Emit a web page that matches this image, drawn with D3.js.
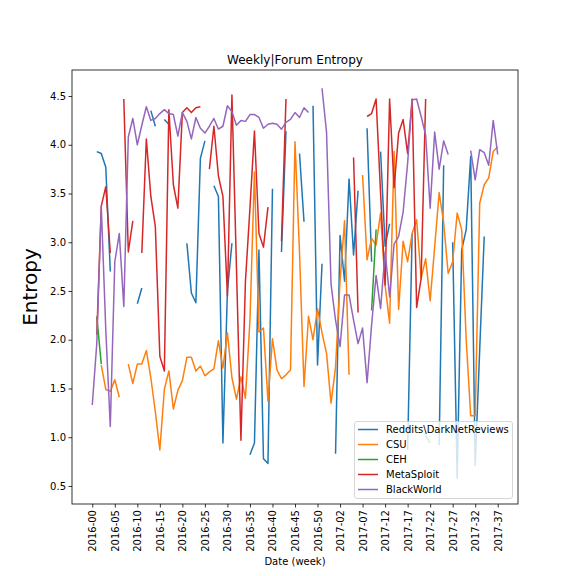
<!DOCTYPE html>
<html><head><meta charset="utf-8">
<script src="https://cdn.jsdelivr.net/npm/d3@7"></script>
<style>body{margin:0;background:#fff}svg{display:block}text{font-family:"DejaVu Sans",sans-serif}</style>
</head><body><svg id="c" width="576" height="576"></svg>
<script>
const years = [2016, 2017];
const weeksPerYear = [53, 38];
const categories = [];
years.forEach((y, k) => { for (let w = 0; w < weeksPerYear[k]; w++) categories.push(y + "-" + String(w).padStart(2, "0")); });
const seriesNames = ["Reddits\\DarkNetReviews", "CSU", "CEH", "MetaSploit", "BlackWorld"];
const colors = ["#1f77b4", "#ff7f0e", "#2ca02c", "#d62728", "#9467bd"];
const yTicks = [0.5, 1.0, 1.5, 2.0, 2.5, 3.0, 3.5, 4.0, 4.5];
const N = null;
const reddit = [N,3.93,3.91,3.77,2.70,N,N,N,N,N, 2.37,2.53,N,4.35,4.19,N,4.26,4.21,N,N,
 N,2.99,2.48,2.38,3.86,4.04,N,3.58,3.47,0.94, 2.5,2.99,N,N,N,0.82,0.94,2.92,0.78,0.73,
 3.55,N,2.90,4.14,N,N,3.91,3.21,N,4.40, 1.74,2.78,N,N,0.83,3.07,2.60,3.65,2.87,3.53,
 N,4.17,2.80,N,3.93,2.96,3.19,N,N,N, 0.87,3.09,N,N,N,N,N,0.92,3.79,N,
 3.0,0.58,2.92,3.13,3.88,0.71,1.9,3.06,N,N,N];
const csu = [N,N,1.74,1.49,1.47,1.59,1.41,N,1.75,1.55, 1.75,1.75,1.89,1.61,1.26,0.87,1.49,1.68,1.29,1.48,
 1.58,1.82,1.82,1.68,1.73,1.63,1.67,1.70,1.99,1.71, 2.07,1.61,1.39,1.62,1.4,2.2,3.72,2.08,2.12,1.37,
 2.01,1.69,1.60,1.64,1.69,4.03,2.9,1.52,2.24,2.00, 2.32,2.07,1.86,1.35,1.72,2.6,3.22,1.64,N,N,
 3.69,2.82,3.04,2.97,3.30,2.56,2.17,3.93,2.31,3.01, 2.80,3.09,3.23,2.63,2.83,2.40,2.95,3.51,3.2,2.68,
 2.80,3.30,3.13,2.0,1.22,1.22,3.40,3.59,3.66,3.93,3.98];
const ceh = [N,2.24,1.75,N,N,N,N,N,N,N, N,N,N,N,N,N,N,N,N,N, N,N,N,N,N,N,N,N,N,N,
 N,N,N,N,N,N,N,N,N,N, N,N,N,N,N,N,N,N,N,N, N,N,N,N,N,N,N,N,N,N,
 N,N,2.3,3.13,N,N,N,N,N,N, N,N,N,N,1.02,0.94,N,N,N,N, N,N,N,N,N,N,N,N,N,N,N];
const metasploit = [N,2.05,3.37,3.57,2.89,N,N,4.47,2.90,3.22, N,2.89,4.06,3.47,3.16,1.83,1.68,4.36,3.59,3.35,
 4.33,4.38,4.33,4.38,4.39,N,3.75,4.19,3.68,3.47, 2.45,4.51,2.75,0.97,2.6,3.35,4.14,3.09,2.95,3.36,
 N,N,3.01,4.47,N,N,N,N,N,N, N,N,N,N,N,N,N,N,3.87,2.28,
 N,4.29,4.32,4.47,3.5,2.56,4.47,3.56,4.12,4.26, 3.91,4.47,2.33,2.63,4.47,N,N,N,N,N,
 N,N,N,N,N,N,N,N,N,N,N];
const blackworld = [1.33,1.96,3.37,2.1,1.11,2.80,3.09,2.34,4.08,4.27, 4.00,4.20,4.39,4.25,4.27,4.32,4.36,4.32,4.31,4.09,
 4.33,4.24,4.06,4.28,4.17,4.12,4.19,4.27,4.16,4.19, 4.40,4.34,4.20,4.25,4.24,4.31,4.31,4.28,4.17,4.21,
 4.22,4.21,4.16,4.23,4.26,4.33,4.28,4.38,4.33,N, N,4.58,4.13,2.57,2.2,1.93,2.46,2.46,2.2,1.96,
 2.12,1.56,2.15,2.66,2.32,2.90,2.44,2.98,3.06,3.31, 3.81,4.46,4.47,4.29,4.10,3.35,4.13,3.75,4.04,3.90,
 N,N,N,N,3.94,3.64,3.95,3.92,3.79,4.25,3.90];
const allSeries = [reddit, csu, ceh, metasploit, blackworld];

const svg = d3.select("#c");
const L = 72, R = 518, T = 70, B = 504;
const n = categories.length - 1;
const x = d3.scaleLinear().domain([-0.05 * n, n * 1.05]).range([L, R]);
const y = d3.scaleLinear().domain([0.315, 4.767]).range([B, T]);

svg.append("defs").append("clipPath").attr("id", "clip").append("rect")
  .attr("x", L).attr("y", T).attr("width", R - L).attr("height", B - T);

const line = d3.line().defined(d => d != null).x((d, i) => x(i)).y(d => y(d));
const g = svg.append("g").attr("clip-path", "url(#clip)");
allSeries.forEach((s, k) => {
  g.append("path").attr("d", line(s)).attr("fill", "none").attr("stroke", colors[k])
    .attr("stroke-width", 1.5).attr("stroke-linejoin", "round").attr("stroke-linecap", "butt");
});

// axes
const xTickIdx = d3.range(0, categories.length, 5);
const xAxis = svg.append("g").attr("transform", `translate(0,${B})`)
  .call(d3.axisBottom(x).tickValues(xTickIdx).tickFormat(i => categories[i]).tickSizeOuter(0).tickSize(3.5));
xAxis.select(".domain").remove();
xAxis.selectAll("text").attr("transform", "rotate(-90)").attr("text-anchor", "end")
  .attr("x", -6).attr("y", 0).attr("dy", "0.35em").style("font-size", "10px").attr("fill", "#000");
xAxis.selectAll("line").attr("stroke", "#000").attr("stroke-width", 0.8);

const yAxis = svg.append("g").attr("transform", `translate(${L},0)`)
  .call(d3.axisLeft(y).tickValues(yTicks).tickFormat(d3.format(".1f")).tickSizeOuter(0).tickSize(3.5));
yAxis.select(".domain").remove();
yAxis.selectAll("text").attr("x", -6).style("font-size", "10px").attr("fill", "#000");
yAxis.selectAll("line").attr("stroke", "#000").attr("stroke-width", 0.8);

svg.append("rect").attr("x", L).attr("y", T).attr("width", R - L).attr("height", B - T)
  .attr("fill", "none").attr("stroke", "#000").attr("stroke-width", 0.8);

svg.append("text").attr("x", (L + R) / 2).attr("y", 64).attr("text-anchor", "middle")
  .style("font-size", "12px").text("Weekly|Forum Entropy");
svg.append("text").attr("x", (L + R) / 2).attr("y", 565).attr("text-anchor", "middle")
  .style("font-size", "10px").text("Date (week)");
svg.append("text").attr("transform", `translate(37,${(T + B) / 2}) rotate(-90)`).attr("text-anchor", "middle")
  .style("font-size", "20px").text("Entropy");

// legend
const lg = svg.append("g");
lg.append("rect").attr("x", 354.5).attr("y", 421.5).attr("width", 158).attr("height", 77).attr("rx", 2.5)
  .attr("fill", "#fff").attr("fill-opacity", 0.8).attr("stroke", "#cccccc").attr("stroke-width", 0.8);
seriesNames.forEach((name, k) => {
  const yy = 429.5 + k * 15;
  lg.append("line").attr("x1", 358).attr("x2", 378).attr("y1", yy).attr("y2", yy)
    .attr("stroke", colors[k]).attr("stroke-width", 1.5);
  lg.append("text").attr("x", 386).attr("y", yy).attr("dy", "0.35em").style("font-size", "10px").text(name);
});
</script></body></html>
